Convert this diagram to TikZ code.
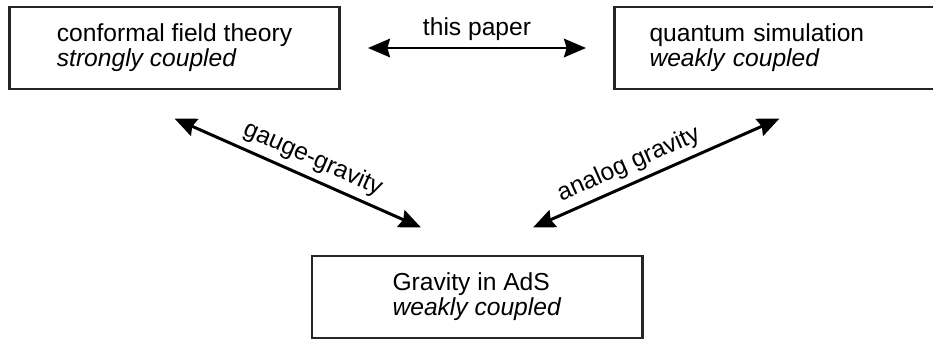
\documentclass[tikz,border=0pt]{standalone}
\usepackage{fontspec}
\setmainfont{Liberation Sans}
\usetikzlibrary{arrows.meta,positioning,calc}

\begin{document}
\begin{tikzpicture}[
    box/.style={rectangle, draw=black!85, line width=1.7pt, minimum height=1.64cm, minimum width=6.6cm, align=left, font=\fontsize{14}{14.2}\selectfont},
    arrow/.style={<->, line width=1.7pt, >={Stealth[length=12.5pt,width=10.5pt,inset=1.5pt]}},
    lbl/.style={font=\fontsize{14}{14.2}\selectfont}
]
\useasboundingbox (0,0) rectangle (18.66,-6.78);

\node[box] (cft) at (3.49,-0.96) {conformal field theory\\\textit{strongly coupled}};
\node[box, right=5.44cm of cft, text width=5.2cm] (qs) {quantum simulation\\\textit{weakly coupled}};
\coordinate (mid) at ($(cft.south)!0.5!(qs.south)$);
\node[box, below=3.28cm of mid] (ads) {Gravity in AdS\\\textit{weakly coupled}};

\draw[arrow, shorten >=0.54cm, shorten <=0.54cm] (cft) -- node[lbl, above] {this paper} (qs);
\draw[arrow] ([yshift=-0.56cm]cft.south) -- node[lbl, above, sloped, pos=0.53] {gauge-gravity} ([shift={(-1.12cm,0.54cm)}]ads.north);
\draw[arrow] ([shift={(1.12cm,0.54cm)}]ads.north) -- node[lbl, above, sloped, pos=0.42] {analog gravity} ([yshift=-0.56cm]qs.south);

\end{tikzpicture}
\end{document}
